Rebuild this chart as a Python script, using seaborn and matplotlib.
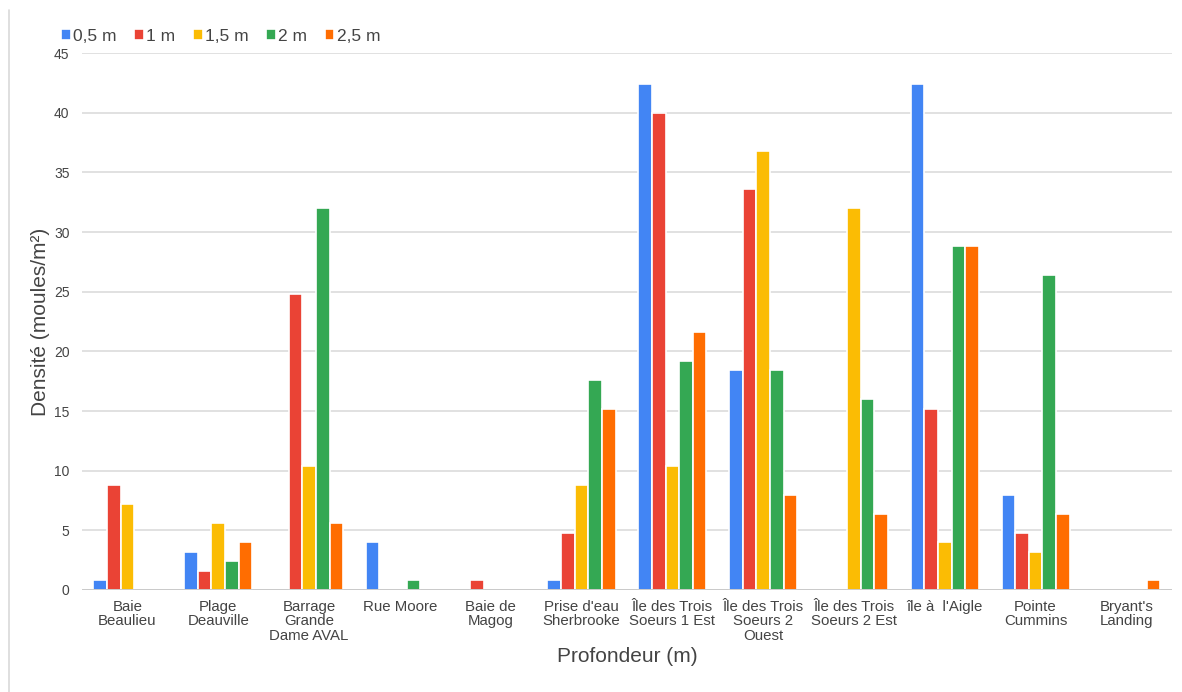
import numpy as np
import pandas as pd
import matplotlib
matplotlib.use("Agg")
import matplotlib.pyplot as plt
from matplotlib.lines import Line2D
import seaborn as sns

sites = ["Baie\nBeaulieu", "Plage\nDeauville", "Barrage\nGrande\nDame AVAL", "Rue Moore",
         "Baie de\nMagog", "Prise d'eau\nSherbrooke", "Île des Trois\nSoeurs 1 Est",
         "Île des Trois\nSoeurs 2\nOuest", "Île des Trois\nSoeurs 2 Est", "île à  l'Aigle",
         "Pointe\nCummins", "Bryant's\nLanding"]
depths = ["0,5 m", "1 m", "1,5 m", "2 m", "2,5 m"]
nan = np.nan
d05 = [0.8, 3.2, nan, 4.0, nan, 0.8, 42.4, 18.4, nan, 42.4, 8.0, nan]
d10 = [8.8, 1.6, 24.8, nan, 0.8, 4.8, 40.0, 33.6, nan, 15.2, 4.8, nan]
d15 = [7.2, 5.6, 10.4, nan, nan, 8.8, 10.4, 36.8, 32.0, 4.0, 3.2, nan]
d20 = [nan, 2.4, 32.0, 0.8, nan, 17.6, 19.2, 18.4, 16.0, 28.8, 26.4, nan]
d25 = [nan, 4.0, 5.6, nan, nan, 15.2, 21.6, 8.0, 6.4, 28.8, 6.4, 0.8]
colors = ["#4285F4", "#EA4335", "#FBBC04", "#34A853", "#FF6D01"]

rows = []
for dname, vals in zip(depths, [d05, d10, d15, d20, d25]):
    for s, v in zip(sites, vals):
        rows.append({"site": s, "depth": dname, "val": v})
df = pd.DataFrame(rows)

sns.set_theme(style="white")
plt.rcParams['font.family'] = ['Liberation Sans', 'DejaVu Sans']

fig = plt.figure(figsize=(11.82, 6.92), dpi=100)
ax = fig.add_axes([0.0694, 0.1474, 0.922, 0.776])
sns.barplot(data=df, x="site", y="val", hue="depth", order=sites, hue_order=depths,
            palette=colors, saturation=1, width=0.75, edgecolor="white", linewidth=1.2,
            ax=ax, legend=True, zorder=3)

ax.set_ylim(0, 45)
ax.set_xlim(-0.5, len(sites) - 0.5)
ax.set_yticks(np.arange(0, 46, 5))
ax.yaxis.grid(True, color="#dcdcdc", linewidth=1.2, zorder=0)
ax.set_axisbelow(True)
ax.axhline(0, color="#c8c8c8", linewidth=2, zorder=4)
for sp in ax.spines.values():
    sp.set_visible(False)
ax.tick_params(axis="both", length=0, colors="#444444")
ax.tick_params(axis="y", labelsize=10, pad=9)
ax.tick_params(axis="x", labelsize=10.8, pad=7)
for t in ax.get_xticklabels():
    t.set_va("top")
    t.set_linespacing(1.05)
ax.set_xlabel("Profondeur (m)", fontsize=15, color="#444444", labelpad=3)
ax.set_ylabel("Densité (moules/m²)", fontsize=15, color="#444444", labelpad=3)

h, l = ax.get_legend_handles_labels()
ax.legend(h, l, loc="lower left", bbox_to_anchor=(0.046, 0.927), bbox_transform=fig.transFigure,
          ncol=5, frameon=False, fontsize=12.5, handlelength=0.55, handleheight=0.6,
          handletextpad=0.15, columnspacing=1.0, labelcolor="#444444", borderaxespad=0)

fig.add_artist(Line2D([9 / 1182, 9 / 1182], [0, 0.985], transform=fig.transFigure,
                      color="#d9d9d9", linewidth=1.2))

fig.savefig("out.png", dpi=100, facecolor="white")
